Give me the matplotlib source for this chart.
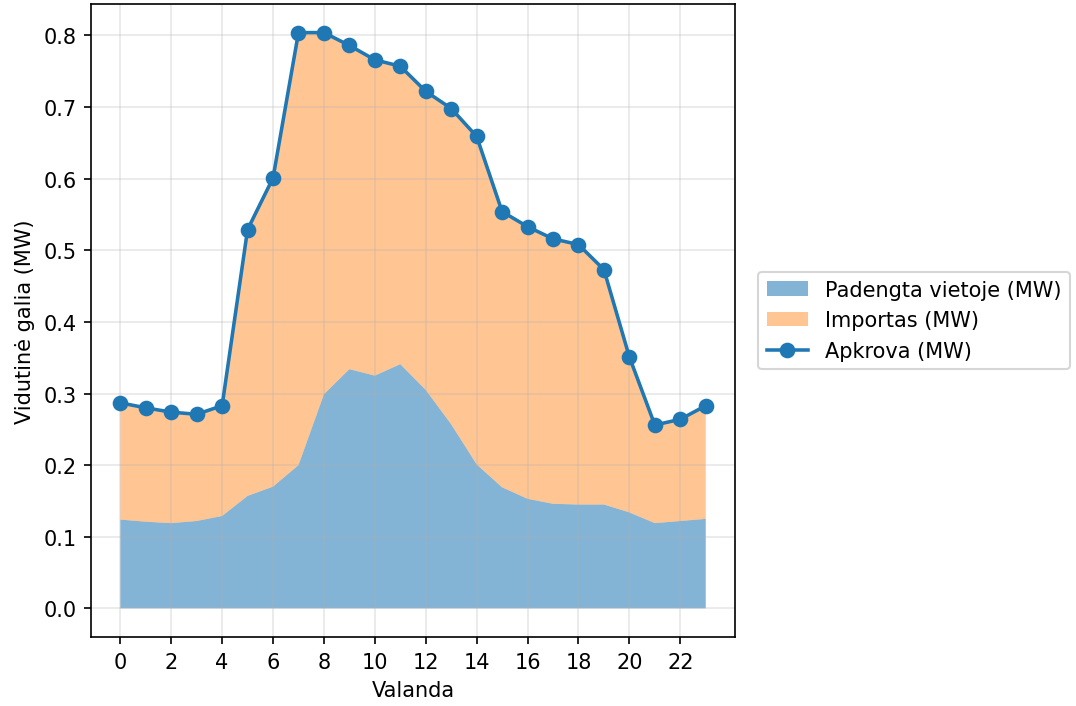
import numpy as np
import matplotlib
matplotlib.use("Agg")
import matplotlib.pyplot as plt

# hourly averages
hours = list(range(24))
load_mw = [0.287, 0.280, 0.274, 0.271, 0.283, 0.529, 0.601, 0.804, 0.804, 0.786,
           0.766, 0.757, 0.722, 0.698, 0.659, 0.554, 0.533, 0.516, 0.508, 0.473,
           0.351, 0.256, 0.264, 0.283]
local_mw = [0.124, 0.121, 0.119, 0.122, 0.129, 0.157, 0.170, 0.200, 0.299, 0.334,
            0.325, 0.341, 0.305, 0.257, 0.201, 0.169, 0.153, 0.146, 0.145, 0.145,
            0.134, 0.119, 0.122, 0.125]
import_mw = [l - c for l, c in zip(load_mw, local_mw)]

fig = plt.figure(figsize=(1076 / 150, 707 / 150), dpi=150)
ax = fig.add_axes([0.0846, 0.0976, 0.5985, 0.8954])

polys = ax.stackplot(hours, local_mw, import_mw,
                     labels=["Padengta vietoje (MW)", "Importas (MW)"],
                     colors=["C0", "C1"])
polys[0].set_alpha(0.55)
polys[1].set_alpha(0.45)
ax.plot(hours, load_mw, marker="o", color="C0", lw=1.7, ms=6.5, label="Apkrova (MW)")

ax.set_xticks(range(0, 24, 2))
ax.set_ylim(-0.04, 0.844)
ax.set_xlabel("Valanda")
ax.set_ylabel("Vidutinė galia (MW)")
ax.grid(True, alpha=0.3)
ax.legend(loc="center left", bbox_to_anchor=(1.02, 0.5))

fig.savefig("out.png", dpi=150)
